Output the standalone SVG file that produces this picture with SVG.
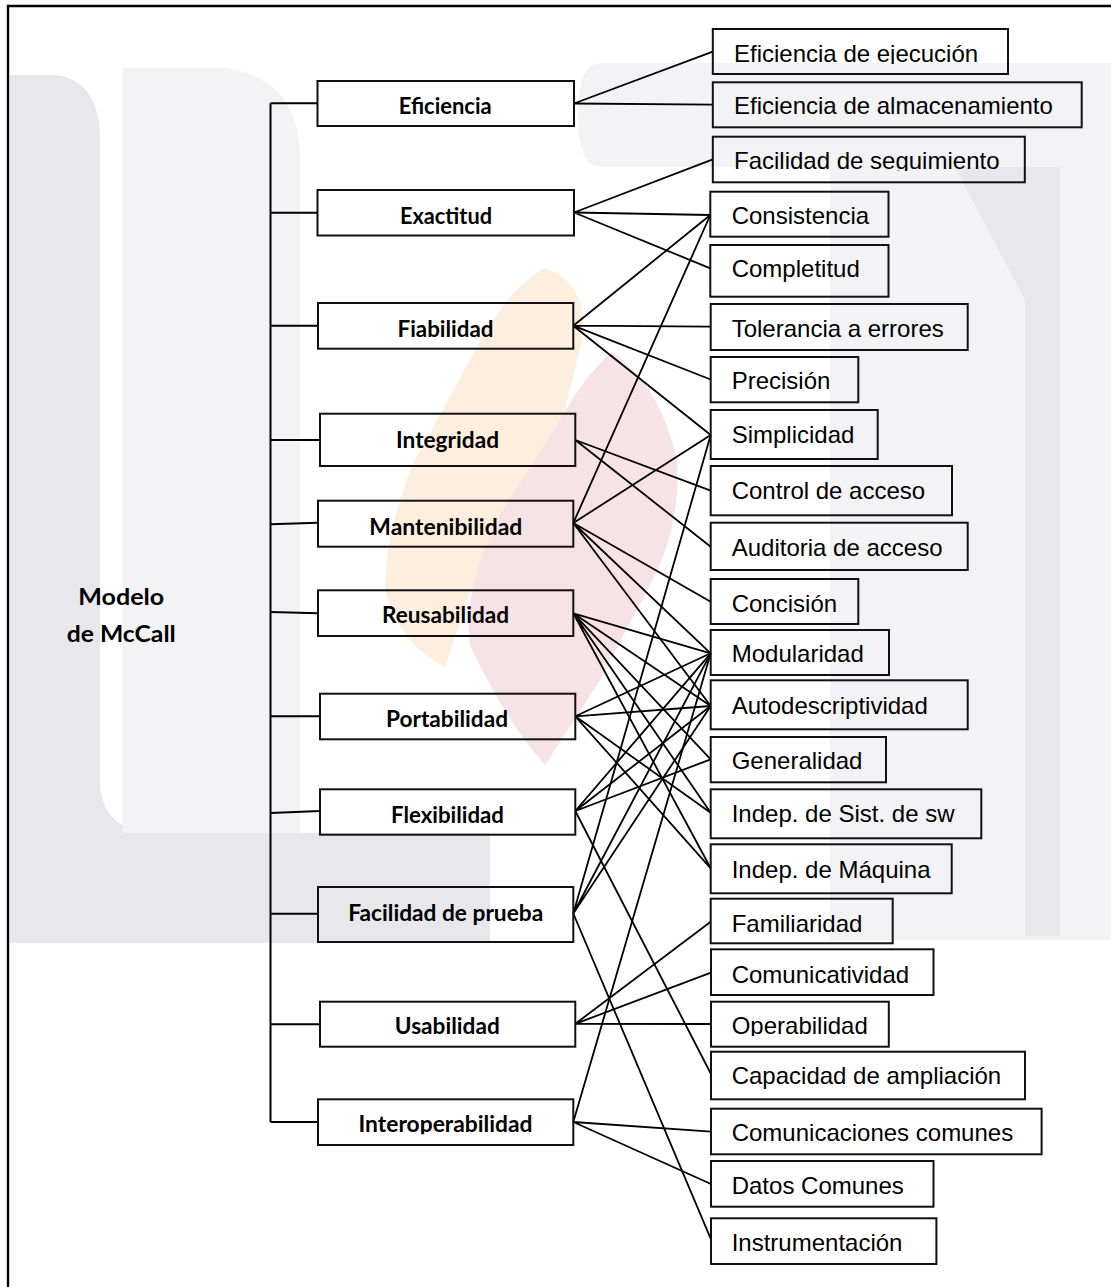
<svg xmlns="http://www.w3.org/2000/svg" width="1111" height="1287" viewBox="0 0 1111 1287">
  <style>
    .box { fill: none; stroke: #111; stroke-width: 2; }
    .edge { fill: none; stroke: #000; stroke-width: 1.8; }
    .trunk { fill: none; stroke: #000; stroke-width: 2; }
    .frame { fill: none; stroke: #000; stroke-width: 2.4; }
    .qf { font-family: Lato, "Liberation Sans", sans-serif; font-weight: bold; font-size: 22px; fill: #000; text-anchor: middle; }
    .cr { font-family: "Liberation Sans", Arial, sans-serif; font-size: 24px; fill: #000; }
    .wm-grey { fill: #e8e8ec; }
    .wm-light { fill: #f3f3f6; }
    .wm-orange { fill: #fdeede; }
    .wm-pink { fill: #f7e3e5; }
  </style>
  <defs>
    <clipPath id="clip-ejec"><rect x="700" y="20" width="320" height="44"/></clipPath>
    <clipPath id="clip-seg"><rect x="700" y="130" width="330" height="41"/></clipPath>
    <clipPath id="clip-oper"><rect x="700" y="995" width="200" height="41"/></clipPath>
    <clipPath id="clip-interop"><rect x="310" y="1095" width="270" height="39.3"/></clipPath>
  </defs>

  <rect x="0" y="0" width="1111" height="1287" fill="#fff"/>

  <!-- faint background watermark -->
  <g id="watermark">
    <path class="wm-grey" d="M10 75 H55 Q100 80 100 140 V780 Q100 833 160 833 H490 V943 H10 Z"/>
    <path class="wm-light" d="M123 68 H225 Q300 78 300 160 V833 H123 Z"/>
    <path class="wm-light" d="M600 63 H1111 V167 H600 Q578 167 578 115 Q578 63 600 63 Z"/>
    <path class="wm-light" d="M830 167 H1111 V940 H830 Z"/>
    <path class="wm-grey" d="M955 167 L1025 300 V936 H1060 V167 Z"/>
    <path class="wm-orange" d="M545 268 Q590 285 582 340 L560 430 L500 530 L467 600 L445 667 Q400 645 385 590 Q385 530 415 460 L470 360 Q505 290 545 268 Z"/>
    <path class="wm-pink" d="M612 352 Q660 385 677 460 Q682 525 650 585 L600 680 L545 765 Q505 720 470 645 Q462 590 500 515 L560 420 Q585 375 612 352 Z"/>
  </g>

  <!-- page frame (top and left edges) -->
  <path class="frame" d="M8 1287 V6 H1111"/>

  <!-- connectors -->
  <g id="connectors">
    <path class="trunk" d="M270.5 103.3 V1122"/>
    <path class="trunk" d="M270.5 103.3 H317.5 M270.5 212.7 H317.5 M270.5 325.7 H318 M270.5 440 H320 M270.5 524.3 L318 522.8 M270.5 612 L318 613.3 M270.5 716.3 H320 M270.5 813 L320 811 M270.5 913.7 H318 M270.5 1024.3 H320 M270.5 1122 H318"/>

    <!-- Eficiencia -->
    <path class="edge" d="M574 103.5 L712.8 51.7 M574 103.5 L712.8 104.7"/>
    <!-- Exactitud -->
    <path class="edge" d="M574 212.5 L712.8 159.3 M574 212.5 L710.3 215 M574 212.5 L710.3 268.3"/>
    <!-- Fiabilidad -->
    <path class="edge" d="M573.3 325.7 L710.3 215 M573.3 325.7 L710.7 326.7 M573.3 325.7 L710.7 379.5 M573.3 325.7 L710.7 435"/>
    <!-- Integridad -->
    <path class="edge" d="M575.3 440 L710.7 490.7 M575.3 440 L710.7 546.7"/>
    <!-- Mantenibilidad -->
    <path class="edge" d="M573.3 523 L710.3 215 M573.3 523 L710.7 435 M573.3 523 L710.7 601.7 M573.3 523 L710.7 653.3 M573.3 523 L710.7 706"/>
    <!-- Reusabilidad -->
    <path class="edge" d="M573.3 613.3 L710.7 653.3 M573.3 613.3 L710.7 706 M573.3 613.3 L710.7 759.3 M573.3 613.3 L710.7 812.7 M573.3 613.3 L710.7 868.3"/>
    <!-- Portabilidad -->
    <path class="edge" d="M575.3 716.3 L710.7 653.3 M575.3 716.3 L710.7 706 M575.3 716.3 L710.7 812.7 M575.3 716.3 L710.7 868.3"/>
    <!-- Flexibilidad -->
    <path class="edge" d="M575.3 811 L710.7 653.3 M575.3 811 L710.7 706 M575.3 811 L710.7 759.3 M575.3 811 L711 1074"/>
    <!-- Facilidad de prueba -->
    <path class="edge" d="M573.3 913.5 L710.7 435 M573.3 913.5 L710.7 653.3 M573.3 913.5 L710.7 706 M573.3 913.5 L711 1239.3"/>
    <!-- Usabilidad -->
    <path class="edge" d="M575.3 1023.8 L710.7 921.7 M575.3 1023.8 L711 972.7 M575.3 1023.8 L711 1024"/>
    <!-- Interoperabilidad -->
    <path class="edge" d="M573.3 1122 L710.7 653.3 M573.3 1122 L711 1131.7 M573.3 1122 L711 1184"/>
  </g>

  <!-- root label -->
  <g id="modelo">
    <text class="qf" x="121.2" y="605" textLength="86" lengthAdjust="spacingAndGlyphs">Modelo</text>
    <text class="qf" x="121.2" y="641.7" textLength="109" lengthAdjust="spacingAndGlyphs">de McCall</text>
  </g>

  <!-- quality factors -->
  <g id="eficiencia"><rect class="box" x="317.5" y="81" width="256.5" height="45"/><text class="qf" x="445.2" y="114.3" textLength="93" lengthAdjust="spacingAndGlyphs">Eficiencia</text></g>
  <g id="exactitud"><rect class="box" x="317.5" y="190" width="256.5" height="45.5"/><text class="qf" x="446" y="224" textLength="92" lengthAdjust="spacingAndGlyphs">Exactitud</text></g>
  <g id="fiabilidad"><rect class="box" x="318" y="303" width="255.3" height="45.7"/><text class="qf" x="445.5" y="337.3" textLength="96" lengthAdjust="spacingAndGlyphs">Fiabilidad</text></g>
  <g id="integridad"><rect class="box" x="320" y="413.7" width="255.3" height="52.3"/><text class="qf" x="447.5" y="447.5" textLength="103" lengthAdjust="spacingAndGlyphs">Integridad</text></g>
  <g id="mantenibilidad"><rect class="box" x="318" y="500.7" width="255.3" height="46"/><text class="qf" x="445.8" y="535" textLength="153" lengthAdjust="spacingAndGlyphs">Mantenibilidad</text></g>
  <g id="reusabilidad"><rect class="box" x="318" y="590.3" width="255.3" height="45.7"/><text class="qf" x="445.5" y="623.3" textLength="127" lengthAdjust="spacingAndGlyphs">Reusabilidad</text></g>
  <g id="portabilidad"><rect class="box" x="320" y="693.7" width="255.3" height="45.6"/><text class="qf" x="447" y="727.3" textLength="122" lengthAdjust="spacingAndGlyphs">Portabilidad</text></g>
  <g id="flexibilidad"><rect class="box" x="320" y="789.3" width="255.3" height="45.4"/><text class="qf" x="447.5" y="822.7" textLength="113" lengthAdjust="spacingAndGlyphs">Flexibilidad</text></g>
  <g id="facilidad-prueba"><rect class="box" x="318" y="887" width="255.3" height="55"/><text class="qf" x="445.7" y="920.7" textLength="195" lengthAdjust="spacingAndGlyphs">Facilidad de prueba</text></g>
  <g id="usabilidad"><rect class="box" x="320" y="1001.7" width="255.3" height="45"/><text class="qf" x="447.3" y="1034.3" textLength="105" lengthAdjust="spacingAndGlyphs">Usabilidad</text></g>
  <g id="interoperabilidad"><rect class="box" x="318" y="1099.3" width="255.3" height="45.7"/><text class="qf" x="445.5" y="1132.3" textLength="174" lengthAdjust="spacingAndGlyphs" clip-path="url(#clip-interop)">Interoperabilidad</text></g>

  <!-- quality criteria -->
  <g id="ef-ejecucion"><rect class="box" x="712.8" y="29" width="295.2" height="45"/><text class="cr" x="734" y="61.7" clip-path="url(#clip-ejec)">Eficiencia de ejecución</text></g>
  <g id="ef-almacenamiento"><rect class="box" x="712.8" y="82.3" width="368.9" height="45"/><text class="cr" x="734" y="114.3">Eficiencia de almacenamiento</text></g>
  <g id="fac-seguimiento"><rect class="box" x="712.8" y="136.7" width="312" height="45.6"/><text class="cr" x="734" y="169" clip-path="url(#clip-seg)">Facilidad de seguimiento</text></g>
  <g id="consistencia"><rect class="box" x="710.3" y="191.7" width="178.2" height="45"/><text class="cr" x="731.7" y="224.3">Consistencia</text></g>
  <g id="completitud"><rect class="box" x="710.3" y="245" width="178.2" height="51.7"/><text class="cr" x="731.7" y="277.3">Completitud</text></g>
  <g id="tolerancia"><rect class="box" x="710.7" y="304" width="257" height="46"/><text class="cr" x="731.7" y="337.3">Tolerancia a errores</text></g>
  <g id="precision"><rect class="box" x="710.7" y="357" width="147.6" height="45.3"/><text class="cr" x="731.7" y="389.3">Precisión</text></g>
  <g id="simplicidad"><rect class="box" x="710.7" y="410" width="167" height="49"/><text class="cr" x="731.7" y="442.7">Simplicidad</text></g>
  <g id="control-acceso"><rect class="box" x="710.7" y="466" width="241.3" height="49.3"/><text class="cr" x="731.7" y="499">Control de acceso</text></g>
  <g id="auditoria-acceso"><rect class="box" x="710.7" y="522.7" width="257" height="47.3"/><text class="cr" x="731.7" y="555.7">Auditoria de acceso</text></g>
  <g id="concision"><rect class="box" x="710.7" y="579" width="147.6" height="45"/><text class="cr" x="731.7" y="611.7">Concisión</text></g>
  <g id="modularidad"><rect class="box" x="710.7" y="630" width="178.3" height="45"/><text class="cr" x="731.7" y="662.3">Modularidad</text></g>
  <g id="autodescriptividad"><rect class="box" x="710.7" y="680.3" width="257" height="49"/><text class="cr" x="731.7" y="714">Autodescriptividad</text></g>
  <g id="generalidad"><rect class="box" x="710.7" y="737" width="175.3" height="45.3"/><text class="cr" x="731.7" y="769">Generalidad</text></g>
  <g id="indep-sistema"><rect class="box" x="710.7" y="789.3" width="270.6" height="49"/><text class="cr" x="731.7" y="822.3">Indep. de Sist. de sw</text></g>
  <g id="indep-maquina"><rect class="box" x="710.7" y="844.3" width="241" height="49"/><text class="cr" x="731.7" y="877.7">Indep. de Máquina</text></g>
  <g id="familiaridad"><rect class="box" x="710.7" y="898.7" width="182" height="44.6"/><text class="cr" x="731.7" y="931.7">Familiaridad</text></g>
  <g id="comunicatividad"><rect class="box" x="711" y="949.3" width="222.5" height="45.7"/><text class="cr" x="731.7" y="982.7">Comunicatividad</text></g>
  <g id="operabilidad"><rect class="box" x="711" y="1001.7" width="177.8" height="45"/><text class="cr" x="731.7" y="1034.3" clip-path="url(#clip-oper)">Operabilidad</text></g>
  <g id="capacidad-ampliacion"><rect class="box" x="711" y="1051.7" width="314" height="47.6"/><text class="cr" x="731.7" y="1084">Capacidad de ampliación</text></g>
  <g id="comunicaciones-comunes"><rect class="box" x="711" y="1108.7" width="330.6" height="45.6"/><text class="cr" x="731.7" y="1141">Comunicaciones comunes</text></g>
  <g id="datos-comunes"><rect class="box" x="711" y="1161" width="222.5" height="45.7"/><text class="cr" x="731.7" y="1194.3">Datos Comunes</text></g>
  <g id="instrumentacion"><rect class="box" x="711" y="1218.3" width="225.4" height="45.7"/><text class="cr" x="731.7" y="1251">Instrumentación</text></g>
</svg>
